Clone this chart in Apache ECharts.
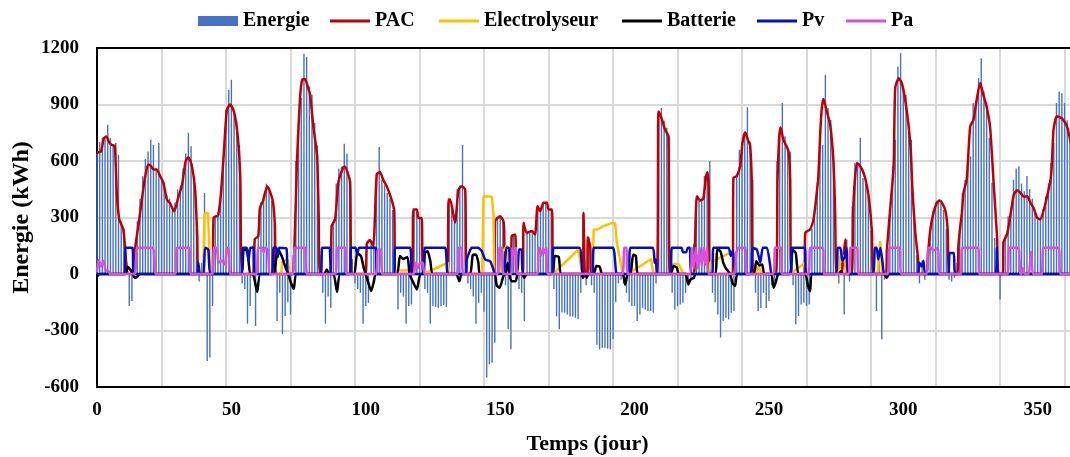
<!DOCTYPE html>
<html><head><meta charset="utf-8">
<script src="https://cdn.jsdelivr.net/npm/echarts/dist/echarts.min.js"></script>
<style>html,body{margin:0;padding:0;background:#fff;}#c{width:1070px;height:457px;}</style>
</head><body><div id="c"></div>
<script>
// Daily energy balance (kWh), day 0..364
const energie = [
640,700,723,723,792,723,690,696,633,280,
240,60,-170,-144,130,280,400,520,610,650,
713,686,560,696,500,480,420,400,350,380,
450,470,560,640,750,678,520,240,-40,60,
430,-462,-444,-170,310,320,420,620,870,978,
1031,855,815,686,-50,-80,-264,-170,150,-276,
200,380,420,480,440,390,260,-250,-100,-320,
-223,-150,-215,100,600,800,935,1169,1152,996,
952,802,683,100,-100,-264,-120,-179,290,480,
560,570,692,639,480,80,-50,-80,-100,-264,
-170,-153,180,200,520,675,500,470,430,400,
340,50,-188,-100,-120,-264,-170,-162,342,340,
300,150,-80,-100,-264,-170,-175,-180,-170,-165,
-175,395,350,280,450,470,686,450,-50,-80,
-120,-264,-153,-100,-200,-550,-480,-471,-365,300,
310,280,-60,-294,-400,210,100,-80,-100,-250,
220,230,230,220,360,340,380,380,345,345,
-80,-225,-294,-205,-205,-215,-225,-225,-232,-240,
-100,325,-60,195,-60,-100,-375,-400,-391,-391,
-396,-400,-347,-150,-50,-30,-50,-100,-150,-170,
-170,-250,-215,-180,-188,-197,-197,-205,-50,850,
882,815,776,731,-100,-188,-170,-162,-153,-100,
-50,-30,160,413,390,400,520,540,600,-100,
-150,-215,-338,-250,-232,-241,-206,-197,520,660,
700,740,885,704,500,-100,-197,-180,-100,-180,
-144,-60,-40,600,760,908,731,676,650,-60,
-267,-223,-162,-153,-170,-162,240,290,480,700,
686,1058,882,818,660,100,-50,60,-215,183,
-40,360,590,584,723,510,480,413,230,20,
-197,100,-347,-30,130,342,572,713,1102,1173,
993,950,792,713,300,100,-50,70,-30,70,
230,330,380,390,378,340,240,-30,-40,-20,
60,254,431,500,600,624,908,908,1040,1146,
969,908,723,484,191,30,-135,170,210,307,
350,500,560,572,480,440,520,450,400,330,
290,300,343,413,480,590,696,908,969,960,
908,817,713,620,560
];
// [day, kWh] vertices
const pac = [[0,645],[1.5,650],[2.5,720],[3.5,730],[4.5,700],[5.5,685],[6.6,680],[7.4,420],[8.3,290],[9.8,236],[11,40],[11.5,0],
[13,0],[13.9,110],[14.8,200],[16,320],[17.5,480],[19,580],[20,575],[21,555],[22.2,555],[23.5,520],[24.7,485],[26,395],[27.2,375],[28.7,332],[30.2,405],[31.6,470],[33,600],[34,620],[35.2,580],[36.5,450],[37.3,200],[37.8,0],
[42.8,0],[43.4,300],[45,310],[46,410],[47,600],[48.3,870],[49.5,900],[50.5,880],[51.4,835],[52.5,713],[53.3,520],[54.2,0],
[58.2,0],[58.7,185],[60,200],[60.6,350],[61.8,390],[63.3,465],[64.3,440],[65.5,380],[66.2,250],[66.6,0],
[72.5,0],[73.3,80],[74.4,600],[75.5,925],[76.3,1030],[77.4,1035],[78.3,1000],[79.3,950],[80.5,783],[81.9,625],[82.5,300],[83,0],
[86.8,0],[87.3,254],[88.6,290],[89.8,485],[91.6,565],[92.3,570],[93.5,527],[94.2,485],[95,0],
[99.8,0],[100.4,160],[101.5,180],[102.8,150],[103.4,300],[104.1,530],[105.3,540],[106.5,500],[107.8,466],[109.6,395],[110.6,333],[111,0],
[117.2,0],[117.7,342],[119,342],[119.6,298],[120.8,298],[121.5,0],
[130.3,0],[130.8,395],[131.4,395],[133.2,273],[134.5,448],[135.7,466],[137,448],[137.6,0],
[147.9,0],[148.1,281],[150,307],[151.2,281],[151.5,236],[151.8,0],
[154,0],[154.3,201],[155.6,210],[156.2,0],
[158.5,0],[158.7,272],[159.9,219],[161.8,228],[163,210],[163.9,360],[164.9,333],[166.1,378],[167.4,378],[168,342],[169.3,342],[169.7,0],
[180.8,0],[181,325],[181.6,0],[182.4,0],[182.6,195],[183.5,148],[184.1,0],
[208.3,0],[208.9,863],[209.8,837],[211.4,766],[212.6,731],[213.2,0],
[222,0],[222.5,166],[223.2,413],[224.4,390],[225.6,400],[226.6,520],[227.1,540],[227.6,457],[228,0],
[236.5,0],[236.8,510],[238,520],[239.3,572],[240.2,700],[241.2,752],[242.4,704],[243,686],[243.6,500],[244.2,0],
[252.6,0],[253.2,500],[253.8,720],[254.3,779],[255.4,713],[257.3,650],[257.9,500],[258.4,0],
[263.2,0],[263.5,219],[265.3,236],[266.6,290],[267.8,431],[268.4,519],[269.1,750],[269.7,883],[270.3,929],[271.5,865],[272.8,792],[274,600],[274.6,350],[275.2,0],
[277,0],[277.5,60],[278.4,183],[278.9,0],
[280.8,0],[281.4,362],[282.7,590],[283.3,584],[284.6,557],[285.8,510],[287.1,413],[288.3,230],[289,0],
[293.5,0],[293.9,130],[295.1,342],[296.4,572],[297,990],[298.3,1040],[299.5,1011],[300.7,925],[302,785],[302.8,650],[303.4,450],[304.4,231],[305.5,80],[306,0],
[308.6,0],[309,70],[310,230],[311.3,330],[312.6,380],[313.5,390],[314.4,378],[315.7,335],[316.5,235],[317.2,0],
[320,0],[320.5,148],[321.2,254],[321.8,325],[322.4,431],[323.6,502],[324.9,785],[326.1,818],[327.3,925],[328.6,1014],[329.8,950],[331.1,883],[332.3,778],[333.6,484],[334.9,191],[335.4,0],
[337,0],[337.3,170],[338.6,210],[339.8,307],[341.1,420],[342.3,445],[343.6,431],[344.8,410],[346.1,413],[347.3,378],[348.5,350],[349.8,298],[351,290],[352.3,343],[353.5,413],[354.8,501],[355.3,590],[355.9,766],[357.1,837],[359,826],[360.9,784],[362.1,713],[363.5,620],[365,560]];
const electrolyseur = [[0,0],[39.5,0],[40,320],[41.3,325],[42.2,0],[68.5,0],[69,70],[71,75],[71.6,0],[110.9,0],[111.5,18],[116,18],[116.5,0],[121.5,0],[130.6,60],[131,0],[143.3,0],[143.8,413],[146.9,410],[147.5,326],[147.8,0],[150.3,0],[151,120],[152.5,150],[153.5,0],[169.7,0],[179.1,130],[180.5,0],[184.4,0],[184.8,236],[186,236],[188.4,254],[191.6,270],[192.8,268],[193.4,166],[194.6,77],[195.6,0],[197.5,0],[206.2,80],[207,0],[213.8,0],[214.5,55],[216.5,50],[218.2,0],[227.8,0],[228.2,60],[236.8,121],[237.4,0],[245,0],[246,40],[247.5,0],[257.8,0],[263.5,60],[264,0],[276,0],[276.5,95],[278,95],[278.8,0],[290.4,0],[291.4,175],[292.2,0],[365,0]];
const batterie = [[0,-15],[1,0],[10.5,0],[11.5,38],[12.5,20],[13.3,0],[14,-20],[15,-15],[15.8,0],[53.5,0],[54.5,125],[55.5,130],[56.3,80],[57,0],[58,0],[59.6,-95],[60.8,0],[65.5,0],[67.3,130],[68.7,95],[70.4,25],[71.2,0],[72,-40],[73.2,-80],[74.3,0],[84.5,0],[85.5,24],[86.5,0],[88,0],[89.3,-95],[90.5,0],[95.5,0],[96.8,110],[98.2,95],[99.3,30],[100,0],[101,-50],[102,-91],[103,-40],[103.8,0],[111.5,0],[112.7,95],[114,80],[115.5,90],[116.3,0],[117.5,-40],[119,-82],[120.3,0],[121.3,0],[122,110],[123,121],[124,70],[125,0],[133.6,0],[134.8,-38],[135.7,0],[138.8,0],[139.8,100],[141,103],[141.9,60],[142.5,0],[147.9,0],[148.7,-60],[149.8,-73],[151,-20],[151.6,0],[152,0],[152.8,60],[153.4,0],[154.2,-38],[155.8,-38],[156.5,0],[158.2,0],[159,-20],[159.9,0],[169.3,0],[170.3,95],[171.8,90],[172.8,0],[180.2,0],[180.8,-20],[181.6,0],[182.2,-20],[182.9,0],[184.8,0],[185.8,42],[187,40],[188,0],[195.5,0],[196.5,-56],[197.5,0],[198.5,0],[199.5,103],[200.5,95],[201.5,0],[213.3,0],[214.5,42],[215.7,35],[216.5,0],[219,0],[220,-56],[220.8,-30],[222,-20],[222.8,0],[229.8,0],[230.8,130],[232,120],[233,60],[234,30],[235.5,0],[236.5,-50],[237.4,-64],[238.3,0],[244.3,0],[245.3,68],[246.5,45],[247.5,50],[248.3,0],[250.8,0],[251.8,-73],[253,-20],[253.5,0],[257.8,0],[258.8,130],[260,110],[261,0],[263.5,0],[264.5,-60],[265.3,-91],[266.2,0],[276,0],[276.8,15],[277.5,0],[292.8,0],[293.8,-20],[294.8,0],[365,0]];
const pv = [[0,0],[10.2,0],[10.6,140],[13.2,140],[13.7,0],[37.2,0],[37.7,60],[38.3,0],[39.6,0],[40.2,139],[41.4,130],[42.4,0],[53.6,0],[54.2,139],[55.8,139],[56.4,70],[57,139],[58.3,139],[58.8,0],[65,0],[65.6,139],[66.8,139],[67.3,90],[67.8,139],[70.5,135],[71.3,0],[83.2,0],[83.8,139],[86.5,139],[87.3,0],[94,0],[94.5,139],[96.2,139],[96.8,100],[97.5,139],[103.6,139],[104.2,0],[110.5,0],[111,139],[116.5,139],[117.2,0],[121.5,0],[122,139],[129.5,139],[130.6,0],[137.2,0],[137.6,77],[139.4,139],[141.9,139],[143.2,121],[144.4,77],[146.3,68],[147.5,24],[148,0],[151.3,0],[152.3,139],[153.3,139],[154,0],[156.3,0],[157,130],[158,130],[158.6,0],[169.3,0],[169.9,139],[179.5,139],[180.8,0],[184.3,0],[184.9,139],[192,139],[193.4,0],[197.8,0],[198.5,139],[206.8,139],[207.5,60],[208,77],[208.4,0],[213.3,0],[213.9,139],[217.5,139],[218,115],[219.2,115],[219.8,139],[220.6,139],[221.3,0],[228.8,0],[229.4,139],[235,139],[235.8,95],[236.6,125],[237.6,0],[243.2,0],[243.9,139],[245.5,130],[246.8,60],[247.7,139],[249.3,139],[250.5,42],[251,0],[258,0],[258.6,139],[263.3,139],[264,0],[274.8,0],[275.6,139],[276.6,139],[277.3,70],[278.2,90],[278.9,139],[279.6,0],[288.6,0],[289.4,139],[290.1,139],[290.7,77],[291.5,139],[292.3,60],[293,0],[305.3,0],[306,60],[306.8,40],[307.5,70],[308.2,0],[316.6,0],[317.2,112],[318.8,112],[319.4,0],[334.3,0],[334.8,139],[335.3,0],[365,0]];
const pa = [[0,10],[0.6,75],[1.5,40],[2.4,70],[3.2,20],[4.2,15],[5,0],[13.9,0],[15,139],[20.8,139],[22,0],[29,0],[29.8,139],[34.2,139],[35,0],[43,0],[43.4,139],[44.5,139],[45.2,60],[46.4,72],[47.6,50],[48.4,139],[49,139],[49.6,0],[59.1,0],[59.9,139],[61.5,139],[62,113],[62.5,139],[63.6,130],[64.5,0],[72.8,0],[73.6,139],[77.4,139],[78.2,0],[88.6,0],[89.4,139],[92.3,139],[93,0],[103.8,0],[104.4,130],[105.6,130],[106.3,0],[117.8,0],[118.5,60],[119.3,30],[120.2,60],[121.2,60],[122,0],[134,0],[134.6,139],[135.7,139],[136.3,0],[149,0],[149.6,139],[150.6,139],[151.2,0],[154.1,0],[154.5,139],[155,100],[155.9,139],[156.4,0],[163.8,0],[164.3,139],[165.3,100],[166,139],[166.7,110],[167.2,139],[167.7,0],[195.5,0],[196.1,139],[197,139],[197.6,0],[220.6,0],[221.3,139],[222,30],[222.8,139],[223.5,30],[224.3,139],[225,40],[225.8,139],[226.4,50],[227,139],[227.6,0],[237,0],[237.8,110],[238.6,139],[241.2,139],[241.8,0],[251.5,0],[252.3,139],[254.5,139],[255,0],[264.6,0],[265.4,139],[270,139],[270.6,0],[279.6,0],[280.3,139],[282.8,139],[283.5,0],[294.1,0],[294.8,139],[298.6,139],[299.3,0],[308.6,0],[309.2,139],[310.5,139],[311,125],[312,130],[313,139],[313.5,0],[321.3,0],[322,139],[327.8,139],[328.4,0],[338.7,0],[339.4,139],[342.8,139],[343.5,0],[344,0],[344.5,30],[345.2,0],[346.7,0],[347.5,120],[348.3,0],[351.5,0],[352.2,139],[357.8,139],[358.5,0],[365,0]];

const font = "'Liberation Serif','Times New Roman',serif";
const lineIcon = 'path://M0,0H40V3H0Z';
const legendDefs = [['Energie',198,'rect'],['PAC',330,lineIcon],['Electrolyseur',439,lineIcon],['Batterie',622,lineIcon],['Pv',757,lineIcon],['Pa',846,lineIcon]];
const txt = {fontFamily:font, fontWeight:'bold', color:'#000'};
const chart = echarts.init(document.getElementById('c'), null, {renderer:'canvas'});
function lineSeries(name, data, color, smooth){
  return {type:'line', name, data, color, symbol:'none', showSymbol:false, smooth,
    lineStyle:{color, width:2.5}, itemStyle:{color}, silent:true, animation:false};
}
chart.setOption({
  animation:false,
  grid:{left:97, top:48, width:981, height:339, outerBoundsMode:'none', containLabel:false},
  legend: legendDefs.map(([n,l,ic]) => ({left:l, top:11, padding:0, itemWidth:40, itemHeight:10, itemGap:0,
    selectedMode:false, data:[{name:n, icon:ic}], textStyle:Object.assign({fontSize:20}, txt)})),
  xAxis:[
    {type:'value', min:0, max:365, interval:50, position:'bottom',
     axisLine:{onZero:false, lineStyle:{color:'#000', width:2}}, axisTick:{show:false}, splitLine:{show:false},
     axisLabel:Object.assign({fontSize:19, margin:14, formatter:v => (v % 50 === 0 ? String(v) : '')}, txt),
     name:'Temps (jour)', nameLocation:'middle', nameGap:46, nameMoveOverlap:false, nameTextStyle:Object.assign({fontSize:22}, txt)},
    {type:'value', min:0, max:365, interval:24, position:'bottom', axisLine:{show:false}, axisTick:{show:false},
     axisLabel:{show:false}, splitLine:{show:true, lineStyle:{color:'#D9D9D9', width:2}}},
    {type:'value', min:0, max:365, position:'top', axisLine:{show:true, onZero:false, lineStyle:{color:'#000', width:2}},
     axisTick:{show:false}, axisLabel:{show:false}, splitLine:{show:false}}
  ],
  yAxis:[{type:'value', min:-600, max:1200, interval:300,
    axisLine:{show:true, onZero:false, lineStyle:{color:'#000', width:2}}, axisTick:{show:false},
    splitLine:{show:true, lineStyle:{color:'#D9D9D9', width:2}},
    axisLabel:Object.assign({fontSize:19, margin:18, formatter:v => String(v)}, txt),
    name:'Energie (kWh)', nameLocation:'middle', nameGap:63, nameMoveOverlap:false, nameTextStyle:Object.assign({fontSize:24}, txt)}],
  series:[
    {type:'bar', name:'Energie', data:energie.map((v,i)=>[i,v]), barWidth:1.4, color:'#4472C4',
     itemStyle:{color:'#4472C4'}, silent:true, animation:false},
    lineSeries('PAC', pac, '#C00000', 0.2),
    lineSeries('Electrolyseur', electrolyseur, '#FFC000', false),
    lineSeries('Batterie', batterie, '#000000', 0.2),
    lineSeries('Pv', pv, '#0010C8', 0.15),
    lineSeries('Pa', pa, '#D652D8', 0.15)
  ]
});
</script></body></html>
